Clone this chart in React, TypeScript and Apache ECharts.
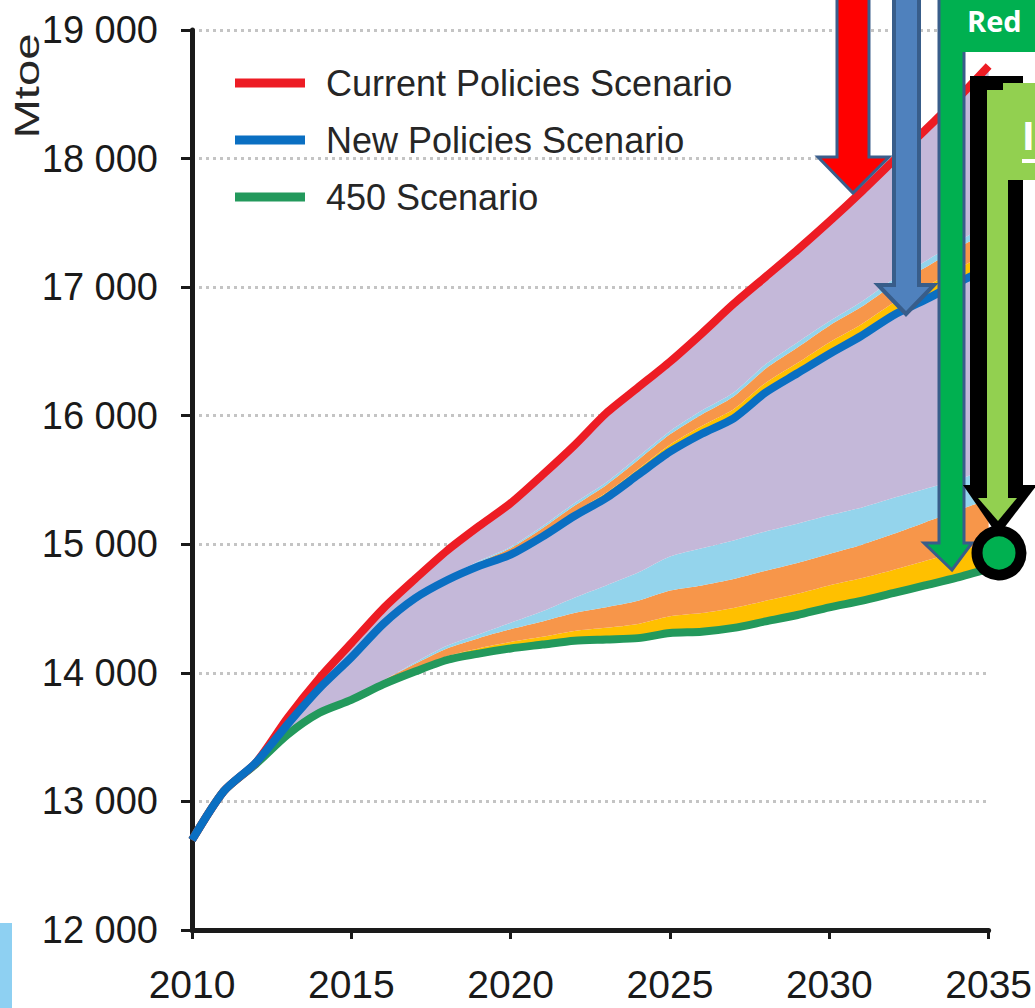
import React, { useEffect, useRef } from "react";
import * as echarts from "echarts";

const years = [2010, 2011, 2012, 2013, 2014, 2015, 2016, 2017, 2018, 2019, 2020, 2021, 2022, 2023, 2024, 2025, 2026, 2027, 2028, 2029, 2030, 2031, 2032, 2033, 2034, 2035];

const currentPolicies = [12700, 13080, 13300, 13650, 13960, 14230, 14500, 14730, 14950, 15140, 15320, 15540, 15770, 16020, 16220, 16420, 16640, 16870, 17080, 17290, 17510, 17740, 17980, 18220, 18460, 18720];
const newPolicies = [12700, 13080, 13300, 13600, 13880, 14120, 14380, 14580, 14720, 14830, 14920, 15060, 15220, 15360, 15540, 15720, 15860, 15980, 16180, 16330, 16480, 16620, 16780, 16900, 17030, 17150];
const scenario450 = [12700, 13080, 13290, 13520, 13690, 13790, 13910, 14010, 14100, 14150, 14190, 14220, 14250, 14260, 14270, 14310, 14320, 14350, 14400, 14450, 14510, 14560, 14620, 14680, 14740, 14810];

// wedge bands above the 450 Scenario line
const lowYellow = [0, 0, 0, 0, 0, 0, 10, 20, 30, 40, 50, 60, 75, 90, 110, 130, 145, 155, 160, 165, 170, 175, 180, 190, 200, 210];
const lowOrange = [0, 0, 0, 0, 0, 0, 20, 40, 60, 80, 100, 120, 140, 160, 180, 200, 215, 225, 235, 240, 245, 260, 280, 300, 320, 330];
const lowCyan = [0, 0, 0, 0, 0, 0, 0, 10, 20, 30, 50, 80, 120, 170, 220, 265, 290, 300, 305, 305, 300, 290, 280, 260, 240, 240];
// wedge bands above the New Policies Scenario line
const upYellow = [0, 0, 0, 0, 0, 0, 0, 0, 5, 10, 20, 25, 30, 40, 45, 55, 60, 70, 75, 80, 90, 90, 95, 100, 110, 115];
const upOrange = [0, 0, 0, 0, 0, 0, 0, 0, 10, 20, 30, 40, 50, 60, 70, 80, 90, 100, 110, 120, 130, 135, 140, 150, 160, 170];
const upCyan = [0, 0, 0, 0, 0, 0, 0, 0, 5, 10, 10, 15, 20, 20, 25, 25, 30, 30, 35, 40, 35, 40, 45, 50, 50, 55];

const yTicks = [12000, 13000, 14000, 15000, 16000, 17000, 18000, 19000];

const LABEL_FONT = "'Liberation Sans', Arial, sans-serif";
const SMOOTH = 0.25;

const C_RED = "#ED1C24";
const C_BLUE = "#0A6FC2";
const C_GREEN = "#23995C";
const C_LAV = "#C4B8D9";
const C_CYAN = "#94D4EC";
const C_ORANGE = "#F7964A";
const C_YELLOW = "#FFC000";

export default function App() {
  const ref = useRef<HTMLDivElement>(null);

  useEffect(() => {
    if (!ref.current) return;
    const chart = echarts.init(ref.current, null, { renderer: "svg" });

    const lav1 = years.map((_, i) => Math.max(0, newPolicies[i] - (scenario450[i] + lowYellow[i] + lowOrange[i] + lowCyan[i])));
    const lav2 = years.map((_, i) => Math.max(0, currentPolicies[i] - (newPolicies[i] + upYellow[i] + upOrange[i] + upCyan[i])));

    const band = (name: string, arr: number[], color: string) => ({
      name,
      type: "line",
      stack: "wedge",
      data: arr,
      smooth: SMOOTH,
      symbol: "none",
      lineStyle: { width: 0, opacity: 0 },
      areaStyle: { color, opacity: 1 },
      itemStyle: { color },
      z: 2,
      silent: true,
    });

    const line = (name: string, arr: number[], color: string, z: number) => ({
      name,
      type: "line",
      data: arr,
      smooth: SMOOTH,
      symbol: "none",
      lineStyle: { width: 8, color },
      itemStyle: { color },
      z,
    });

    const yLabel = (v: number) => Math.floor(v / 1000) + " 000";

    chart.setOption({
      animation: false,
      backgroundColor: "#ffffff",
      grid: { left: 192, right: 38, top: 30, bottom: 78, containLabel: false },
      legend: {
        data: ["Current Policies Scenario", "New Policies Scenario", "450 Scenario"],
        orient: "vertical",
        left: 230,
        top: 58,
        icon: "rect",
        itemWidth: 70,
        itemHeight: 9,
        itemGap: 17,
        textStyle: {
          fontFamily: LABEL_FONT,
          fontSize: 36,
          lineHeight: 40,
          color: "#262626",
          padding: [0, 0, 0, 16],
        },
      },
      xAxis: {
        type: "category",
        data: years.map(String),
        boundaryGap: false,
        axisLine: { show: true, lineStyle: { color: "#1a1a1a", width: 5 } },
        axisTick: { show: true, interval: 4, length: 9, lineStyle: { color: "#1a1a1a", width: 3 } },
        axisLabel: {
          interval: 4,
          fontFamily: LABEL_FONT,
          fontSize: 39,
          color: "#1a1a1a",
          margin: 35,
        },
        splitLine: { show: false },
      },
      yAxis: {
        type: "value",
        min: yTicks[0],
        max: yTicks[yTicks.length - 1],
        interval: 1000,
        axisLine: { show: true, lineStyle: { color: "#1a1a1a", width: 5 } },
        axisTick: { show: true, length: 11, lineStyle: { color: "#1a1a1a", width: 3 } },
        axisLabel: {
          formatter: yLabel,
          fontFamily: LABEL_FONT,
          fontSize: 38,
          color: "#1a1a1a",
          margin: 34,
        },
        splitLine: { show: true, lineStyle: { type: [3, 4], color: "#c4c4c4", width: 3 } },
      },
      series: [
        {
          name: "base",
          type: "line",
          stack: "wedge",
          data: scenario450,
          smooth: SMOOTH,
          symbol: "none",
          lineStyle: { width: 0, opacity: 0 },
          silent: true,
          z: 2,
        },
        band("lowYellow", lowYellow, C_YELLOW),
        band("lowOrange", lowOrange, C_ORANGE),
        band("lowCyan", lowCyan, C_CYAN),
        band("lav1", lav1, C_LAV),
        band("upYellow", upYellow, C_YELLOW),
        band("upOrange", upOrange, C_ORANGE),
        band("upCyan", upCyan, C_CYAN),
        band("lav2", lav2, C_LAV),
        line("450 Scenario", scenario450, C_GREEN, 5),
        line("Current Policies Scenario", currentPolicies, C_RED, 6),
        line("New Policies Scenario", newPolicies, C_BLUE, 7),
      ],
      graphic: [
        {
          type: "text",
          x: 27,
          y: 86,
          rotation: Math.PI / 2,
          scaleX: 1.35,
          z: 100,
          style: {
            text: "Mtoe",
            fontFamily: LABEL_FONT,
            fontSize: 35,
            fill: "#262626",
            align: "center",
            verticalAlign: "middle",
          },
        },
        { type: "rect", z: 100, shape: { x: 0, y: 923, width: 12, height: 85 }, style: { fill: "#8ED0F2" } },
        {
          type: "polygon",
          z: 100,
          shape: { points: [[837, -5], [869, -5], [869, 157], [889, 157], [853, 193], [818, 157], [837, 157]] },
          style: { fill: "#FF0000", stroke: "#3A5E8C", lineWidth: 3 },
        },
        {
          type: "polygon",
          z: 100,
          shape: { points: [[894, -5], [919, -5], [919, 285], [934, 285], [906, 314], [878, 285], [894, 285]] },
          style: { fill: "#4F81BD", stroke: "#385D8A", lineWidth: 4 },
        },
        {
          type: "polygon",
          z: 100,
          shape: { points: [[939, -5], [964, -5], [964, 543], [972, 543], [952, 570], [924, 543], [939, 543]] },
          style: { fill: "#00B050", stroke: "#385D8A", lineWidth: 3 },
        },
        { type: "rect", z: 101, shape: { x: 943, y: -5, width: 100, height: 57 }, style: { fill: "#00B050" } },
        {
          type: "text",
          x: 967,
          y: 20,
          z: 102,
          style: {
            text: "Red",
            fontFamily: "'Open Sans', sans-serif",
            fontWeight: "bold",
            fontSize: 29,
            fill: "#ffffff",
            verticalAlign: "middle",
          },
        },
        { type: "rect", z: 101, shape: { x: 970, y: 76, width: 53, height: 411 }, style: { fill: "#000000" } },
        { type: "polygon", z: 101, shape: { points: [[963, 485], [1037, 485], [998, 536]] }, style: { fill: "#000000" } },
        { type: "rect", z: 102, shape: { x: 987, y: 90, width: 21, height: 412 }, style: { fill: "#92D050" } },
        { type: "polygon", z: 102, shape: { points: [[978, 498], [1017, 498], [998, 521]] }, style: { fill: "#92D050" } },
        { type: "rect", z: 102, shape: { x: 1003, y: 83, width: 40, height: 97 }, style: { fill: "#92D050" } },
        { type: "rect", z: 102, shape: { x: 987, y: 93, width: 20, height: 87 }, style: { fill: "#92D050" } },
        {
          type: "text",
          x: 1035,
          y: 134,
          z: 103,
          style: {
            text: "I",
            fontFamily: "'Open Sans', sans-serif",
            fontWeight: "bold",
            fontSize: 40,
            fill: "#ffffff",
            align: "right",
            verticalAlign: "middle",
          },
        },
        { type: "rect", z: 103, shape: { x: 1022, y: 159, width: 20, height: 4 }, style: { fill: "#ffffff" } },
        {
          type: "circle",
          z: 103,
          shape: { cx: 999, cy: 553, r: 22 },
          style: { fill: "#00B050", stroke: "#000000", lineWidth: 11 },
        },
      ],
    });

    return () => chart.dispose();
  }, []);

  return (
    <div
      ref={ref}
      style={{ position: "absolute", left: 0, top: 0, width: 1035, height: 1008, background: "#fff" }}
    />
  );
}
